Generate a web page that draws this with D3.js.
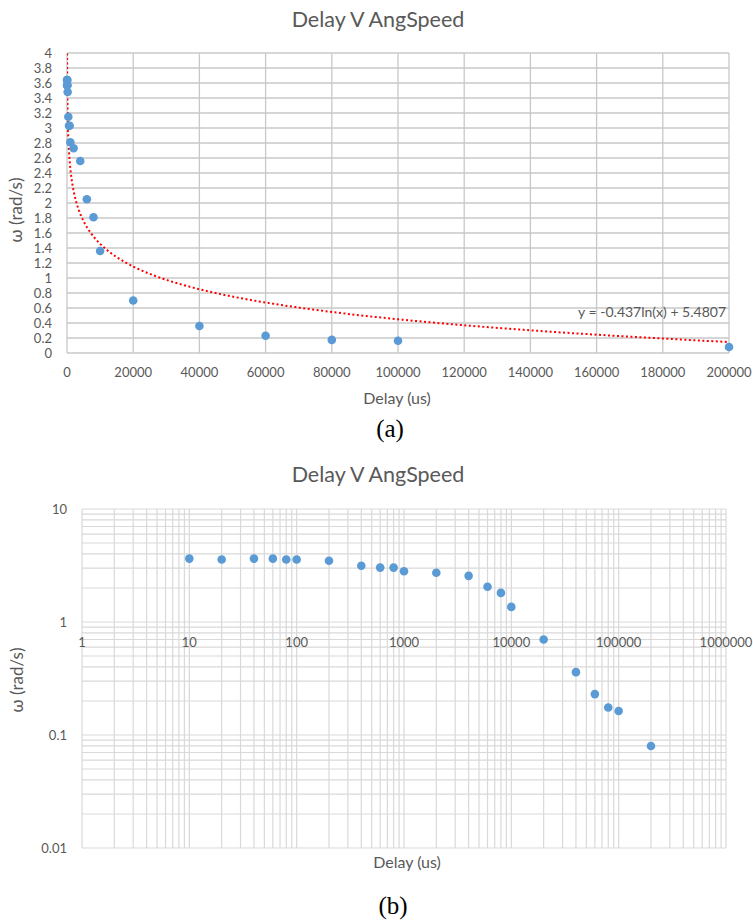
<!DOCTYPE html>
<html>
<head>
<meta charset="utf-8">
<script src="https://cdn.jsdelivr.net/npm/d3@7"></script>
<style>
  body { margin: 0; background: #fff; }
  text { font-family: Lato, "Open Sans", sans-serif; fill: #595959; }
  .cap { font-family: "Liberation Serif", "DejaVu Serif", serif; fill: #000; }
</style>
</head>
<body>
<script>
// Data
const delays = [10, 20, 40, 60, 80, 100, 200, 400, 600, 800, 1000, 2000, 4000, 6000, 8000, 10000, 20000, 40000, 60000, 80000, 100000, 200000];
const speeds = [3.64, 3.57, 3.64, 3.64, 3.57, 3.57, 3.48, 3.15, 3.03, 3.03, 2.81, 2.73, 2.56, 2.05, 1.81, 1.36, 0.70, 0.36, 0.23, 0.175, 0.163, 0.08];

const xTicksLin = [0, 20000, 40000, 60000, 80000, 100000, 120000, 140000, 160000, 180000, 200000];
const yTicksLin = [0, 0.2, 0.4, 0.6, 0.8, 1, 1.2, 1.4, 1.6, 1.8, 2, 2.2, 2.4, 2.6, 2.8, 3, 3.2, 3.4, 3.6, 3.8, 4];
const xTicksLog = [1, 10, 100, 1000, 10000, 100000, 1000000];
const yTicksLog = [0.01, 0.1, 1, 10];

// logarithmic trendline y = a ln(x) + b
const trendA = -0.437;
const trendB = 5.4807;
const trendLabel = "y = -0.437ln(x) + 5.4807";

const title = "Delay V AngSpeed";
const xTitle = "Delay (us)";
const yTitle = "ω (rad/s)";
const blue = "#5b9bd5";

const svg = d3.select("body").append("svg")
    .attr("width", 753)
    .attr("height", 923);

// ---------- (a) linear chart ----------
const x1 = d3.scaleLinear().domain([0, 200000]).range([67, 729]);
const y1 = d3.scaleLinear().domain([0, 4]).range([353, 53]);

const g1 = svg.append("g");

g1.append("g").selectAll("line")
    .data(yTicksLin)
    .enter().append("line")
    .attr("x1", 67).attr("x2", 729)
    .attr("y1", d => y1(d)).attr("y2", d => y1(d))
    .attr("stroke", "#c8c8c8").attr("stroke-width", 1.3);

g1.append("g").selectAll("line")
    .data(xTicksLin)
    .enter().append("line")
    .attr("x1", d => x1(d)).attr("x2", d => x1(d))
    .attr("y1", 53).attr("y2", 353)
    .attr("stroke", "#c8c8c8").attr("stroke-width", 1.3);

g1.append("g").selectAll("text")
    .data(yTicksLin)
    .enter().append("text")
    .attr("x", 52).attr("y", d => y1(d))
    .attr("dy", "0.35em")
    .attr("text-anchor", "end")
    .attr("font-size", 13)
    .text(d => d);

g1.append("g").selectAll("text")
    .data(xTicksLin)
    .enter().append("text")
    .attr("x", d => x1(d)).attr("y", 377)
    .attr("text-anchor", "middle")
    .attr("font-size", 13)
    .text(d => d);

svg.append("clipPath").attr("id", "clipA")
    .append("rect").attr("x", 67).attr("y", 53).attr("width", 662).attr("height", 300);

const trendX = d3.range(0, 401).map(i => Math.pow(10, 1 + i * (Math.log10(200000) - 1) / 400));
g1.append("path")
    .datum(trendX)
    .attr("clip-path", "url(#clipA)")
    .attr("fill", "none")
    .attr("stroke", "#ff0000")
    .attr("stroke-width", 2)
    .attr("stroke-dasharray", "2,2.5")
    .attr("d", d3.line().x(d => x1(d)).y(d => y1(trendA * Math.log(d) + trendB)));

g1.append("g").selectAll("circle")
    .data(delays)
    .enter().append("circle")
    .attr("cx", d => x1(d))
    .attr("cy", (d, i) => y1(speeds[i]))
    .attr("r", 4.3)
    .attr("fill", blue);

g1.append("text")
    .attr("x", 726).attr("y", 317)
    .attr("text-anchor", "end")
    .attr("font-size", 14)
    .text(trendLabel);

g1.append("text")
    .attr("x", 378).attr("y", 27)
    .attr("text-anchor", "middle")
    .attr("font-size", 21.5)
    .text(title);

g1.append("text")
    .attr("x", 397).attr("y", 404)
    .attr("text-anchor", "middle")
    .attr("font-size", 16)
    .text(xTitle);

g1.append("text")
    .attr("transform", "translate(22,210) rotate(-90)")
    .attr("text-anchor", "middle")
    .attr("font-size", 17)
    .text(yTitle);

g1.append("text")
    .attr("class", "cap")
    .attr("x", 390).attr("y", 437)
    .attr("text-anchor", "middle")
    .attr("font-size", 25)
    .text("(a)");

// ---------- (b) log-log chart ----------
const x2 = d3.scaleLog().domain([1, 1000000]).range([82, 726]);
const y2 = d3.scaleLog().domain([0.01, 10]).range([848, 509]);

const g2 = svg.append("g");

const minorX = xTicksLog.slice(0, -1).flatMap(d => d3.range(1, 10).map(k => d * k)).concat([1000000]);
const minorY = yTicksLog.slice(0, -1).flatMap(d => d3.range(1, 10).map(k => d * k)).concat([10]);

g2.append("g").selectAll("line")
    .data(minorY)
    .enter().append("line")
    .attr("x1", 82).attr("x2", 726)
    .attr("y1", d => y2(d)).attr("y2", d => y2(d))
    .attr("stroke", "#d9d9d9").attr("stroke-width", 1.2);

g2.append("g").selectAll("line")
    .data(minorX)
    .enter().append("line")
    .attr("x1", d => x2(d)).attr("x2", d => x2(d))
    .attr("y1", 509).attr("y2", 848)
    .attr("stroke", "#d9d9d9").attr("stroke-width", 1.2);

g2.append("g").selectAll("text")
    .data(yTicksLog)
    .enter().append("text")
    .attr("x", 67).attr("y", d => y2(d))
    .attr("dy", "0.35em")
    .attr("text-anchor", "end")
    .attr("font-size", 13)
    .text(d => d);

g2.append("g").selectAll("text")
    .data(xTicksLog)
    .enter().append("text")
    .attr("x", d => x2(d)).attr("y", y2(1) + 25)
    .attr("text-anchor", "middle")
    .attr("font-size", 13)
    .text(d => d);

g2.append("g").selectAll("circle")
    .data(delays)
    .enter().append("circle")
    .attr("cx", d => x2(d))
    .attr("cy", (d, i) => y2(speeds[i]))
    .attr("r", 4.3)
    .attr("fill", blue);

g2.append("text")
    .attr("x", 378).attr("y", 482)
    .attr("text-anchor", "middle")
    .attr("font-size", 21.5)
    .text(title);

g2.append("text")
    .attr("x", 407).attr("y", 868)
    .attr("text-anchor", "middle")
    .attr("font-size", 16)
    .text(xTitle);

g2.append("text")
    .attr("transform", "translate(23,680) rotate(-90)")
    .attr("text-anchor", "middle")
    .attr("font-size", 17)
    .text(yTitle);

g2.append("text")
    .attr("class", "cap")
    .attr("x", 393).attr("y", 914)
    .attr("text-anchor", "middle")
    .attr("font-size", 25)
    .text("(b)");
</script>
</body>
</html>
